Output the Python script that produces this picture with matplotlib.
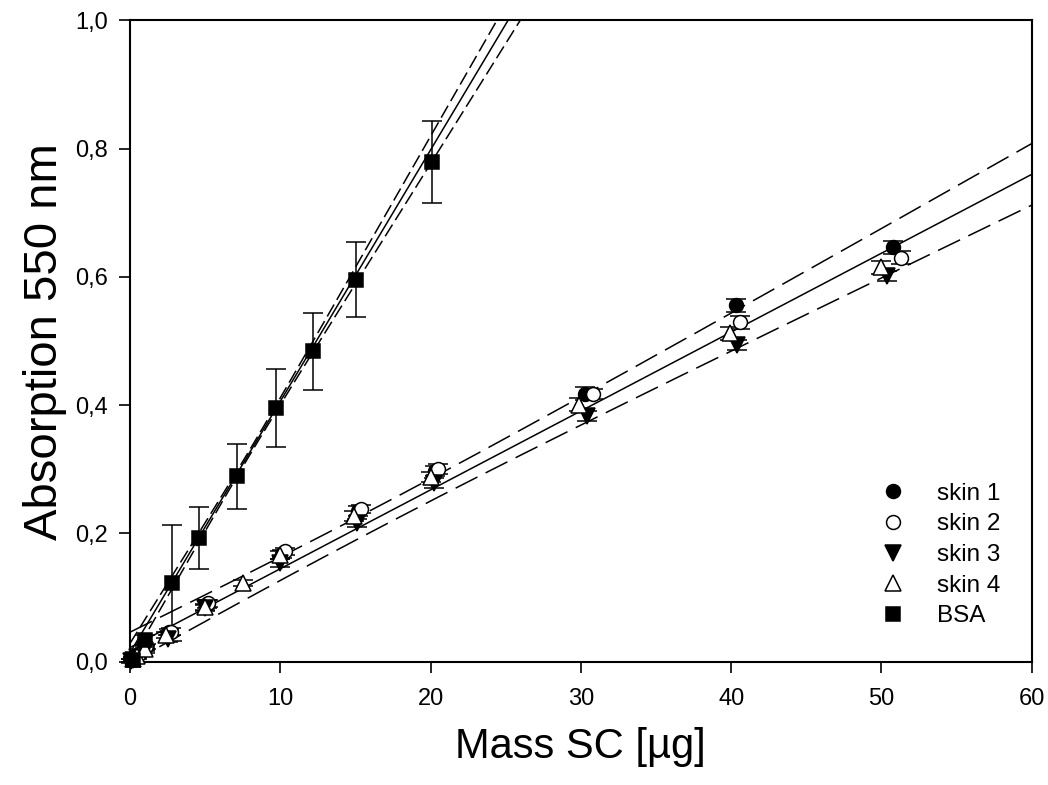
import numpy as np
import matplotlib
matplotlib.use("Agg")
import matplotlib.pyplot as plt
from matplotlib.ticker import FuncFormatter

plt.rcParams['font.family'] = ['Liberation Sans', 'DejaVu Sans']

# --- data ---
# BSA standard
bsa_x = [0.2, 1.0, 2.8, 4.6, 7.1, 9.7, 12.15, 15.05, 20.1]
bsa_y = [0.003, 0.034, 0.123, 0.193, 0.289, 0.396, 0.484, 0.596, 0.779]
bsa_err = [0.004, 0.008, 0.090, 0.048, 0.051, 0.061, 0.060, 0.058, 0.064]

# skin samples
skin1_x = [0.1, 0.2, 0.5, 1.0, 2.6, 5.1, 10.1, 15.2, 20.3, 30.3, 40.3, 50.8]
skin1_y = [0.002, 0.004, 0.010, 0.022, 0.046, 0.090, 0.168, 0.235, 0.297, 0.418, 0.556, 0.646]
skin1_err = [0.003, 0.003, 0.003, 0.004, 0.005, 0.006, 0.006, 0.008, 0.008, 0.010, 0.010, 0.010]

skin2_x = [0.3, 0.6, 1.1, 2.7, 5.2, 10.3, 15.4, 20.5, 30.8, 40.6, 51.3]
skin2_y = [0.005, 0.012, 0.024, 0.047, 0.091, 0.172, 0.238, 0.300, 0.417, 0.529, 0.630]
skin2_err = [0.003, 0.003, 0.004, 0.005, 0.005, 0.006, 0.006, 0.008, 0.008, 0.010, 0.010]

skin3_x = [0.1, 0.2, 0.5, 1.0, 2.5, 5.0, 10.0, 15.1, 20.2, 30.4, 40.4, 50.4]
skin3_y = [0.001, 0.003, 0.008, 0.018, 0.036, 0.084, 0.154, 0.216, 0.279, 0.383, 0.494, 0.601]
skin3_err = [0.003, 0.003, 0.003, 0.004, 0.005, 0.005, 0.006, 0.006, 0.008, 0.008, 0.008, 0.008]

skin4_x = [0.2, 0.5, 1.0, 2.4, 5.0, 7.5, 10.0, 14.9, 20.0, 29.9, 39.9, 50.0]
skin4_y = [0.004, 0.009, 0.020, 0.042, 0.085, 0.123, 0.166, 0.227, 0.288, 0.401, 0.512, 0.615]
skin4_err = [0.003, 0.003, 0.004, 0.005, 0.005, 0.005, 0.006, 0.008, 0.008, 0.010, 0.010, 0.010]

# linear fits (intercept, slope) and 95% confidence band:
# (x of narrowest point, half-width there, half-width at x_ref, x_ref)
skin_fit = [0.022, 0.0123]
skin_band = [16.5, 0.017, 0.048, 60.0]
bsa_fit = [0.014, 0.0392]
bsa_band = [8.0, 0.004, 0.030, 25.0]

fig = plt.figure(figsize=(10.48, 7.85), dpi=100)
ax = fig.add_axes([0.124, 0.157, 0.8605, 0.817])


def draw_fit(x0, x1, fit, band, dashes):
    xs = np.linspace(x0, x1, 300)
    line = fit[0] + fit[1] * xs
    xc, h0, h1, xr = band
    b = (h1 ** 2 - h0 ** 2) / (xr - xc) ** 2
    half = np.sqrt(h0 ** 2 + b * (xs - xc) ** 2)
    ax.plot(xs, line, color='black', lw=1.1, zorder=2)
    for sgn in (1, -1):
        l, = ax.plot(xs, line + sgn * half, color='black', lw=1.1, zorder=2)
        l.set_dashes(dashes)


draw_fit(0, 60, skin_fit, skin_band, (16, 6))
draw_fit(0, 27, bsa_fit, bsa_band, (9, 3.5))

ekw = dict(ecolor='black', elinewidth=1.1, capsize=7, capthick=1.1, ls='none', zorder=3)
series = [
    (skin1_x, skin1_y, skin1_err, 'o', 10, 'black', 'skin 1'),
    (skin2_x, skin2_y, skin2_err, 'o', 10, 'white', 'skin 2'),
    (skin3_x, skin3_y, skin3_err, 'v', 11, 'black', 'skin 3'),
    (skin4_x, skin4_y, skin4_err, '^', 11, 'white', 'skin 4'),
    (bsa_x, bsa_y, bsa_err, 's', 10.5, 'black', 'BSA'),
]
for x, y, e, m, ms, fc, lab in series:
    cont = ax.errorbar(x, y, yerr=e, marker=m, ms=ms, mfc=fc, mec='black', mew=1.1,
                       label=lab, **ekw)
    # markers near the origin spill over the axes like in the original
    cont[0].set_clip_on(False)
    for art in cont[1] + cont[2]:
        art.set_clip_on(False)

ax.set_xlim(0, 60)
ax.set_ylim(0, 1.0)
ax.set_xticks(np.arange(0, 61, 10))
ax.set_yticks(np.arange(0, 1.01, 0.2))
ax.yaxis.set_major_formatter(FuncFormatter(lambda v, p: f"{v:.1f}".replace('.', ',')))
ax.tick_params(direction='out', length=8, width=1.2, labelsize=17, pad=8)
ax.tick_params(axis='x', pad=11)
for s in ax.spines.values():
    s.set_linewidth(1.5)

ax.set_xlabel('Mass SC [µg]', fontsize=30, labelpad=12)
ax.set_ylabel('Absorption 550 nm', fontsize=34, labelpad=6)

handles, labels = ax.get_legend_handles_labels()
handles = [h[0] for h in handles]
ax.legend(handles, labels, loc='lower right', bbox_to_anchor=(0.989, 0.02), frameon=False,
          fontsize=17.5, handletextpad=1.2, labelspacing=0.35, borderaxespad=0.5,
          handlelength=1.2)

plt.savefig('out.png', dpi=100)
